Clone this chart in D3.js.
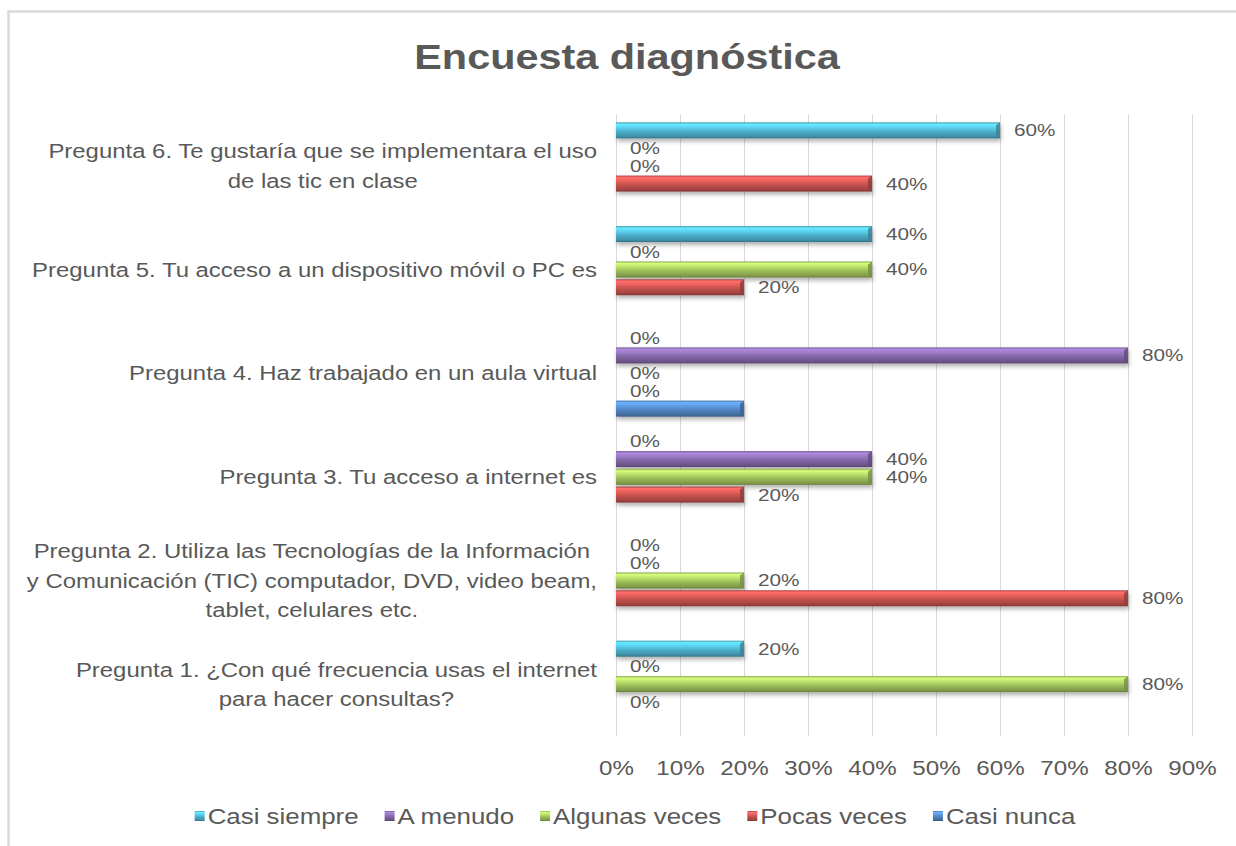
<!DOCTYPE html>
<html>
<head>
<meta charset="utf-8">
<script src="https://cdn.jsdelivr.net/npm/d3@7"></script>
<style>
  body { margin: 0; background: #fff; }
  svg { display: block; font-family: "Liberation Sans", Arial, sans-serif; }
</style>
</head>
<body>
<svg width="1236" height="846"></svg>
<script>
// categories, bottom to top as Excel stores them
var categories = [
  "Pregunta 1. ¿Con qué frecuencia usas el internet\npara hacer consultas?",
  "Pregunta 2. Utiliza las Tecnologías de la Información\ny Comunicación (TIC) computador, DVD, video beam,\ntablet, celulares etc.",
  "Pregunta 3. Tu acceso a internet es",
  "Pregunta 4. Haz trabajado en un aula virtual",
  "Pregunta 5. Tu acceso a un dispositivo móvil o PC es",
  "Pregunta 6. Te gustaría que se implementara el uso\nde las tic en clase"
];
var seriesNames = ["Casi siempre", "A menudo", "Algunas veces", "Pocas veces", "Casi nunca"];
var casiSiempre  = [0.2, 0,   0,   0,   0.4, 0.6];
var aMenudo      = [0,   0,   0.4, 0.8, 0,   0];
var algunasVeces = [0.8, 0.2, 0.4, 0,   0.4, 0];
var pocasVeces   = [0,   0.8, 0.2, 0,   0.2, 0.4];
var casiNunca    = [null, null, null, 0.2, null, null];
// the data label of Casi nunca is not shown in the chart
var showLabels   = [true, true, true, true, false];
var xTicks = [0, 0.1, 0.2, 0.3, 0.4, 0.5, 0.6, 0.7, 0.8, 0.9];

var seriesValues = [casiSiempre, aMenudo, algunasVeces, pocasVeces, casiNunca];

var svg = d3.select("svg"),
    width = +svg.attr("width"),
    height = +svg.attr("height");

var textColor = "#595959";
// the original picture is a bit stretched sideways
var sx = 1.15;
var stretch = "scale(" + sx + ",1)";

var colors = d3.scaleOrdinal()
    .domain(seriesNames)
    .range(["#4bacc6", "#8064a2", "#9bbb59", "#c0504d", "#4f81bd"]);

var x = d3.scaleLinear()
    .domain([0, 0.9])
    .range([616, 1192]);

var y0 = d3.scaleBand()
    .domain(categories.slice().reverse())
    .range([114, 736]);

var gap = 15;
var y1 = d3.scaleBand()
    .domain(seriesNames)
    .range([gap / 2, y0.bandwidth() - gap / 2]);

var defs = svg.append("defs");

// bevel look of the bars
seriesNames.forEach(function(name, i) {
  var c = d3.color(colors(name));
  var grad = defs.append("linearGradient")
      .attr("id", "grad" + i)
      .attr("x1", 0).attr("y1", 0).attr("x2", 0).attr("y2", 1);
  grad.append("stop").attr("offset", "0%").attr("stop-color", c.darker(0.4));
  grad.append("stop").attr("offset", "12%").attr("stop-color", c.brighter(0.9));
  grad.append("stop").attr("offset", "30%").attr("stop-color", c.brighter(0.6));
  grad.append("stop").attr("offset", "60%").attr("stop-color", c);
  grad.append("stop").attr("offset", "88%").attr("stop-color", c.darker(0.5));
  grad.append("stop").attr("offset", "100%").attr("stop-color", c.darker(1.1));
});

defs.append("filter")
    .attr("id", "shadow")
    .attr("x", "-5%").attr("y", "-40%").attr("width", "110%").attr("height", "200%")
  .append("feDropShadow")
    .attr("dx", 1).attr("dy", 3)
    .attr("stdDeviation", 2)
    .attr("flood-color", "#000")
    .attr("flood-opacity", 0.3);

// chart border (only top and left are inside the picture)
svg.append("path")
    .attr("d", "M8.5," + height + "V11.5H" + width)
    .attr("fill", "none")
    .attr("stroke", "#d9d9d9")
    .attr("stroke-width", 2.5);

// title
svg.append("text")
    .attr("transform", "translate(627,69) " + stretch)
    .attr("text-anchor", "middle")
    .attr("font-size", 36)
    .attr("font-weight", "bold")
    .attr("fill", textColor)
    .text("Encuesta diagnóstica");

// gridlines
svg.append("g")
    .selectAll("line")
    .data(xTicks)
    .enter().append("line")
    .attr("x1", function(d) { return x(d) + 0.5; })
    .attr("x2", function(d) { return x(d) + 0.5; })
    .attr("y1", y0.range()[0])
    .attr("y2", y0.range()[1])
    .attr("stroke", "#d9d9d9")
    .attr("stroke-width", 1);

// x axis labels
var xAxis = svg.append("g")
    .attr("transform", "translate(0," + y0.range()[1] + ")")
    .call(d3.axisBottom(x)
      .tickValues(xTicks)
      .tickSize(0)
      .tickPadding(24)
      .tickFormat(d3.format(".0%")));
xAxis.select(".domain").remove();
xAxis.selectAll("text")
    .attr("transform", stretch)
    .attr("font-family", "Liberation Sans, Arial, sans-serif")
    .attr("font-size", 21)
    .attr("fill", textColor);

// bars
var rows = [];
categories.forEach(function(cat, ci) {
  seriesNames.forEach(function(s, si) {
    rows.push({ cat: cat, series: s, si: si, value: seriesValues[si][ci] });
  });
});

var barH = 16;
function barTop(d) { return y0(d.cat) + y1(d.series) + (y1.bandwidth() - barH) / 2; }

var bars = svg.append("g");
bars.selectAll("rect")
    .data(rows.filter(function(d) { return d.value != null && d.value > 0; }))
    .enter().append("rect")
    .attr("x", x(0))
    .attr("y", barTop)
    .attr("width", function(d) { return x(d.value) - x(0); })
    .attr("height", barH)
    .attr("fill", function(d) { return "url(#grad" + d.si + ")"; })
    .attr("filter", "url(#shadow)");

// bevel on the right end
bars.selectAll("path")
    .data(rows.filter(function(d) { return d.value != null && d.value > 0; }))
    .enter().append("path")
    .attr("d", function(d) {
      var xe = x(d.value), yt = barTop(d);
      return "M" + (xe - 4) + "," + (yt + 3) + "L" + xe + "," + yt + "V" + (yt + barH) +
        "L" + (xe - 4) + "," + (yt + barH - 3) + "Z";
    })
    .attr("fill", function(d) { return d3.color(colors(d.series)).darker(0.8); })
    .attr("opacity", 0.8);

// data labels (stacked tight, a little smaller so they do not collide)
svg.append("g")
    .selectAll("text")
    .data(rows.filter(function(d) { return d.value != null && showLabels[d.si]; }))
    .enter().append("text")
    .attr("transform", function(d) {
      return "translate(" + (x(d.value) + 14) + "," + (y0(d.cat) + y1(d.series) + y1.bandwidth() / 2) + ") scale(1.22,1)";
    })
    .attr("dy", "0.35em")
    .attr("font-size", 17)
    .attr("fill", textColor)
    .text(function(d) { return d3.format(".0%")(d.value); });

// category labels, centred lines, block ends near the plot
var labelRight = 597, lineH = 29.5;
var catG = svg.append("g");
categories.forEach(function(cat) {
  var lines = cat.split("\n");
  var t = catG.append("text")
      .attr("font-size", 20.8)
      .attr("fill", textColor)
      .attr("text-anchor", "middle");
  var cy = y0(cat) + y0.bandwidth() / 2;
  var spans = lines.map(function(line, i) {
    return t.append("tspan")
        .attr("x", 0)
        .attr("y", cy + (i - (lines.length - 1) / 2) * lineH)
        .attr("dy", "0.35em")
        .text(line);
  });
  var maxW = d3.max(spans, function(s) { return s.node().getComputedTextLength(); }) * sx;
  t.attr("transform", "translate(" + (labelRight - maxW / 2) + ",0) " + stretch);
});

// legend
var legend = svg.append("g");
var items = legend.selectAll("g")
    .data(seriesNames)
    .enter().append("g");
items.append("rect")
    .attr("width", 10)
    .attr("height", 10)
    .attr("y", -5)
    .attr("fill", function(d, i) { return "url(#grad" + i + ")"; });
items.append("text")
    .attr("transform", "translate(13,0) " + stretch)
    .attr("dy", "0.35em")
    .attr("font-size", 22.5)
    .attr("fill", textColor)
    .text(function(d) { return d; });

var itemGap = 26;
var offs = [], cur = 0;
items.each(function() {
  offs.push(cur);
  cur += 13 + d3.select(this).select("text").node().getComputedTextLength() * sx + itemGap;
});
var total = cur - itemGap;
var startX = 635 - total / 2;
items.attr("transform", function(d, i) { return "translate(" + (startX + offs[i]) + ",816)"; });
</script>
</body>
</html>
